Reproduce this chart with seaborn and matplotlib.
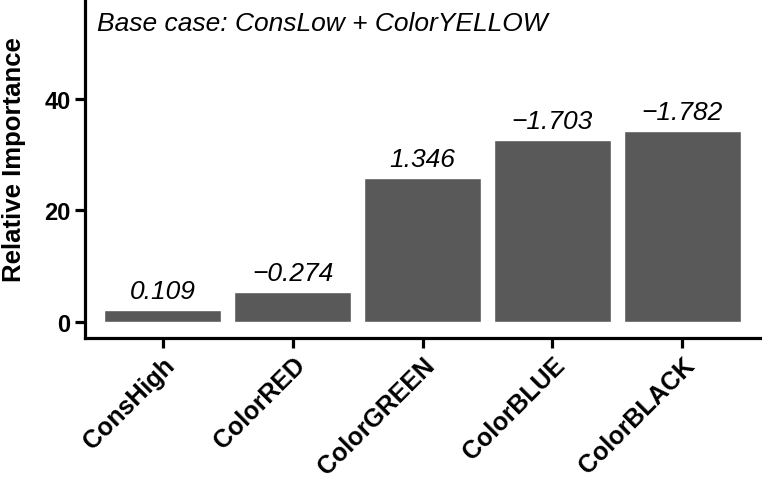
import matplotlib
matplotlib.use('Agg')
import matplotlib.pyplot as plt
import seaborn as sns
import pandas as pd

# Values
categories = ['ConsHigh', 'ColorRED', 'ColorGREEN', 'ColorBLUE', 'ColorBLACK']
importance = [2.1, 5.3, 25.8, 32.7, 34.2]
coef_labels = ['0.109', '\u22120.274', '1.346', '\u22121.703', '\u22121.782']
subtitle = 'Base case: ConsLow + ColorYELLOW'

sns.set_theme(style='white')
plt.rcParams['font.family'] = ['Liberation Sans', 'DejaVu Sans']
plt.rcParams['text.color'] = 'black'
plt.rcParams['axes.labelcolor'] = 'black'
plt.rcParams['xtick.color'] = 'black'
plt.rcParams['ytick.color'] = 'black'

df = pd.DataFrame({'Variable': categories, 'Importance': importance})

fig = plt.figure(figsize=(7.62, 4.81), dpi=100)
ax = fig.add_axes([0.1115, 0.2952, 0.886, 0.7048])

sns.barplot(data=df, x='Variable', y='Importance', color='#595959',
            saturation=1, width=0.9, ax=ax)

# coefficient labels above bars
for i, (val, lab) in enumerate(zip(importance, coef_labels)):
    ax.annotate(lab, xy=(i, val), xytext=(0, 5), textcoords='offset points',
                ha='center', va='bottom', fontsize=19, fontstyle='italic')

ax.text(0.018, 0.965, subtitle, transform=ax.transAxes, ha='left', va='top',
        fontsize=19, fontstyle='italic')

ax.set_xlim(-0.6, 4.6)
ax.set_ylim(-2.9, 57.9)
ax.set_yticks([0, 20, 40])
ax.set_xlabel('')
ax.set_ylabel('Relative Importance', fontsize=18.5, fontweight='bold')
ax.yaxis.set_label_coords(-0.087, 0.53)

for side in ['top', 'right']:
    ax.spines[side].set_visible(False)
for side in ['left', 'bottom']:
    ax.spines[side].set_color('black')
    ax.spines[side].set_linewidth(2.3)

ax.tick_params(axis='both', length=7, width=2.3, color='black', direction='out',
               bottom=True, left=True)
plt.setp(ax.get_yticklabels(), fontsize=17, fontweight='bold')
plt.setp(ax.get_xticklabels(), fontsize=18, fontweight='bold', rotation=45,
         ha='right', rotation_mode='anchor')

fig.savefig('out.png', dpi=100, facecolor='white')
